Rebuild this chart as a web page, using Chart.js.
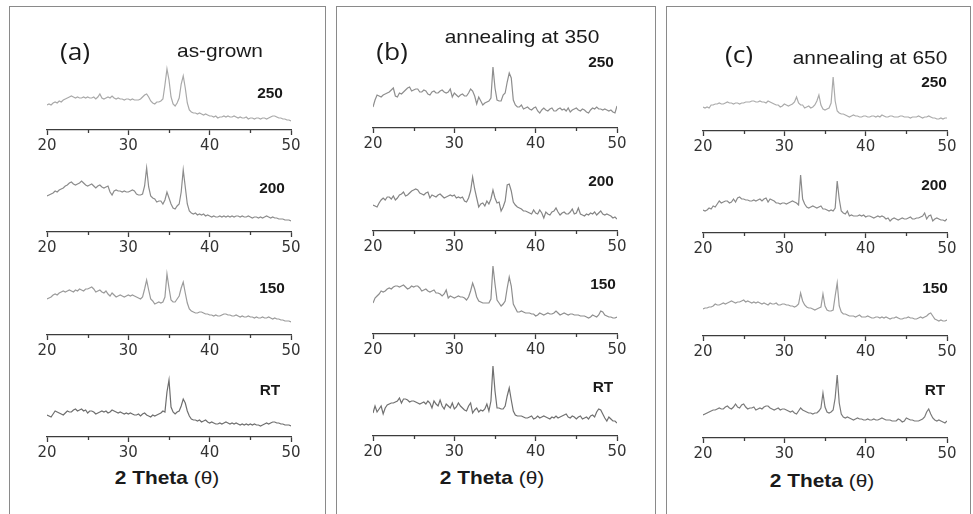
<!DOCTYPE html>
<html>
<head>
<meta charset="utf-8">
<script src="https://cdn.jsdelivr.net/npm/chart.js@4.4.1/dist/chart.umd.min.js"></script>
<style>
  body { margin: 0; background: #fff; width: 973px; height: 514px; overflow: hidden; position: relative;
         font-family: 'Liberation Sans', Arial, sans-serif; }
  .panel { position: absolute; border: 1.5px solid #8a8a8a; border-bottom: none; box-sizing: border-box; }
  .plot { position: absolute; }
  .txt { position: absolute; white-space: nowrap; line-height: 1; color: #1a1a1a;
         transform: translate(-50%, -50%) scaleX(1.1); }
  .tag { font-size: 24px; font-family: 'Open Sans', sans-serif; }
  .title { font-size: 19px; }
  .temp { font-size: 14px; font-weight: bold; }
  .xlabel { font-size: 19px; font-weight: bold; }
  .xlabel span { font-weight: normal; }
</style>
</head>
<body>
<script>
// ── Data ──────────────────────────────────────────────────────────────────
const panelTags   = ['(a)', '(b)', '(c)'];
const panelTitles = ['as-grown', 'annealing at 350', 'annealing at 650'];
const sampleTemps = ['250', '200', '150', 'RT'];
const xTickLabels = [20, 30, 40, 50];
const minorTicks  = [25, 35, 45];
const xTitle      = '2 Theta';

// 2θ sampling grid, 0.25° steps from 20 to 50
const twoTheta = Array.from({ length: 121 }, (_, i) => 20 + i * 0.25);

// intensities (arb. units), as-grown
const a250 = [
  25,26,25,27,28,27,29,28,30,31,32,33,34,33,32,33,32,32,33,32,
  33,32,32,33,31,33,36,32,31,32,33,32,34,32,31,32,31,31,30,31,
  31,30,31,30,30,30,31,33,35,36,33,29,27,26,28,28,29,31,45,61,
  50,33,26,24,27,32,46,54,42,27,20,18,17,17,16,17,16,15,16,15,
  14,14,13,14,12,13,13,14,13,14,13,13,14,13,12,13,12,12,13,11,
  12,12,11,12,12,11,12,12,11,12,13,14,14,13,12,12,11,11,10,10,
  9];
const a200 = [
  36,37,38,39,41,40,42,43,44,46,47,49,50,48,47,48,49,51,49,47,
  46,47,48,46,44,46,47,45,44,45,46,40,37,41,42,41,41,40,41,40,
  40,41,42,41,38,37,37,38,46,64,45,36,34,33,30,31,31,28,32,40,
  34,28,24,23,26,28,40,62,45,28,21,19,18,19,17,18,17,18,16,17,
  16,15,16,15,15,16,15,16,15,16,15,16,15,16,16,15,16,15,15,16,
  15,14,15,15,14,15,14,15,16,15,14,15,14,14,13,13,13,12,12,12,
  11];
const a150 = [
  36,37,38,40,41,40,42,43,44,43,44,45,44,43,45,44,46,45,44,46,
  46,47,48,46,43,44,45,43,42,44,41,39,42,40,38,39,40,39,38,39,
  40,39,40,39,38,37,36,38,46,55,45,36,34,31,32,33,32,33,38,61,
  47,35,33,33,36,39,47,53,42,32,26,24,23,22,22,23,23,22,21,21,
  20,20,19,20,19,19,20,21,21,20,20,19,19,20,19,18,19,18,18,19,
  18,18,17,18,17,17,18,17,17,18,17,16,17,16,16,15,15,14,14,14,
  13];
const aRT = [
  22,21,20,23,26,25,24,23,22,24,26,25,25,27,28,26,27,28,26,27,
  24,26,26,25,23,24,25,26,25,26,24,25,27,26,25,24,25,24,23,24,
  23,24,23,22,22,23,21,23,24,22,21,20,22,21,22,23,24,26,25,45,
  57,30,25,23,25,26,31,38,34,26,21,18,17,17,16,17,15,16,17,15,
  14,15,14,13,13,14,13,14,15,14,13,14,13,14,13,12,13,12,13,12,
  13,12,13,12,12,11,12,13,14,13,14,15,15,14,14,13,13,12,12,12,
  11];

// annealing at 350
const b250 = [
  21,28,33,32,31,33,34,35,36,38,40,32,31,35,34,36,38,40,41,37,
  38,39,39,36,36,38,37,34,33,36,37,35,35,37,38,36,35,36,39,31,
  35,33,31,33,34,32,32,35,39,37,32,24,31,27,23,25,26,27,30,61,
  40,28,27,27,33,35,46,55,50,28,23,21,21,23,19,20,21,19,18,20,
  21,17,15,18,20,18,17,19,20,17,17,19,20,18,19,17,20,16,18,19,
  20,18,17,19,18,16,15,18,20,19,21,19,19,18,19,18,17,18,16,15,
  22];
const b200 = [
  26,25,24,28,31,33,31,34,34,32,35,31,33,36,37,39,35,36,38,40,
  41,42,41,38,37,36,38,39,33,36,35,34,36,37,35,33,34,35,36,35,
  36,33,34,33,34,30,29,33,40,54,42,33,24,27,28,25,30,27,32,41,
  33,28,29,20,24,30,46,47,40,29,26,24,23,22,20,20,19,18,17,21,
  18,17,21,18,13,19,17,16,19,20,23,19,16,18,19,17,17,19,22,17,
  18,23,17,16,15,17,16,18,17,19,16,18,20,17,16,17,16,15,13,14,
  12];
const b150 = [
  31,36,38,40,43,42,43,45,46,45,47,48,48,47,48,49,47,45,46,48,
  47,48,48,46,43,44,45,43,42,43,44,41,41,40,38,40,44,36,38,37,
  36,37,38,37,37,36,34,37,43,51,45,37,33,32,31,31,31,31,35,68,
  50,34,31,28,30,33,46,57,48,30,26,22,22,23,22,21,21,21,20,20,
  18,19,21,20,19,20,21,20,20,21,23,21,19,20,21,20,19,20,20,19,
  19,19,18,18,18,17,16,17,19,18,17,19,23,22,19,18,17,17,16,16,
  17];
const bRT = [
  23,30,24,27,30,22,28,31,32,33,33,34,35,38,33,37,37,36,34,35,
  35,34,33,32,33,34,32,35,33,28,35,32,30,36,30,27,32,30,28,33,
  27,29,33,30,28,26,25,30,33,23,26,28,24,26,25,27,32,25,35,70,
  45,28,28,27,27,30,40,48,36,25,21,20,20,20,19,18,18,19,20,17,
  18,20,18,19,20,19,18,17,19,18,20,18,19,20,21,22,19,18,20,19,
  17,19,20,17,18,19,17,20,21,19,24,27,26,22,18,15,19,17,15,15,
  13];

// annealing at 650
const c250 = [
  24,23,24,23,26,26,27,27,28,27,27,28,29,28,28,27,28,28,27,28,
  28,29,29,29,30,30,29,29,30,29,29,28,30,29,28,27,26,26,24,25,
  27,26,25,26,27,29,34,28,26,26,23,24,25,23,24,26,30,36,26,22,
  21,22,23,28,54,30,20,18,17,17,16,15,14,15,16,15,15,14,14,15,
  15,14,14,15,15,14,15,14,16,15,14,14,15,15,14,14,14,15,15,14,
  14,14,13,14,14,14,15,14,13,14,14,15,14,13,13,12,12,13,12,13,
  13];
const c200 = [
  23,22,23,25,24,27,26,29,32,30,31,32,32,30,31,34,31,35,36,34,
  34,33,33,32,32,33,32,33,34,32,34,35,31,34,33,32,30,30,29,30,
  30,29,30,31,32,31,30,28,58,34,29,26,25,26,27,26,25,26,27,24,
  24,23,22,23,22,25,52,34,22,20,19,22,17,18,17,17,17,18,17,18,
  16,17,17,16,15,16,17,16,17,16,14,15,12,14,15,14,13,14,15,14,
  14,15,16,14,14,15,15,16,17,20,14,17,18,12,14,15,14,13,13,12,
  14];
const c150 = [
  27,28,28,29,29,30,32,31,31,32,33,32,33,34,35,34,33,34,34,35,
  36,34,35,34,33,34,33,34,33,32,33,32,31,33,32,32,33,31,31,32,
  32,31,31,30,30,29,30,32,43,35,31,29,28,28,27,26,27,28,29,42,
  30,26,25,25,26,40,53,30,24,22,22,21,20,20,20,19,20,21,19,19,
  19,20,19,18,18,19,19,18,19,18,19,18,17,18,18,19,18,17,17,18,
  18,19,18,18,17,17,18,19,18,19,20,22,23,20,17,16,15,16,15,15,
  16];
const cRT = [
  23,24,25,26,27,28,28,29,30,29,29,31,32,30,29,31,34,31,30,33,
  34,31,29,30,30,31,28,29,30,29,31,32,32,30,29,28,29,30,28,29,
  29,28,27,26,27,25,24,27,30,28,27,26,25,25,24,25,25,27,30,45,
  31,26,25,26,28,40,63,35,24,21,20,21,20,19,18,19,20,19,19,18,
  18,19,18,18,19,18,18,19,20,19,18,18,18,17,17,17,19,18,16,17,
  20,19,18,18,17,17,17,18,19,21,26,29,24,20,18,17,18,17,16,15,
  17];

const panelSeries = [
  [a250, a200, a150, aRT],
  [b250, b200, b150, bRT],
  [c250, c200, c150, cRT]
];

// ── Layout & style ────────────────────────────────────────────────────────
const AXIS = '#3c3c3c';
const PLOT_H = 72;      // chart area height, 1 unit = 1 px
const AXIS_H = 26;      // room below the axis for ticks + labels
const SIDE = 20;
const AXIS_W = 244;

const panels = [
  { box: [9, 6, 317],   x0: 46.5,  axisY: [130, 232, 335, 437],
    tag: [75, 51], title: [220, 50], xl: [167, 477],
    temps: [[270, 93], [272, 188], [272, 288], [270, 390]],
    colors: ['#a9a9a9', '#8c8c8c', '#9b9b9b', '#6e6e6e'] },
  { box: [336, 6, 320], x0: 372.5, axisY: [128, 231, 334, 436],
    tag: [392, 51], title: [522, 36], xl: [492, 477],
    temps: [[601, 62], [601, 181], [603, 284], [603, 387]],
    colors: ['#8e8e8e', '#858585', '#8e8e8e', '#707070'] },
  { box: [666, 6, 305], x0: 702.5, axisY: [131, 233, 336, 438],
    tag: [739, 54], title: [870, 57], xl: [822, 480],
    temps: [[934, 82], [934, 185], [935, 288], [935, 390]],
    colors: ['#ababab', '#8a8a8a', '#9c9c9c', '#7a7a7a'] }
];

function addText(cls, html, cx, cy) {
  const d = document.createElement('div');
  d.className = 'txt ' + cls;
  d.innerHTML = html;
  d.style.left = cx + 'px';
  d.style.top = cy + 'px';
  document.body.appendChild(d);
}

// short ticks at the half-decade positions
const minorTickPlugin = {
  id: 'minorTickPlugin',
  afterDraw(chart) {
    const s = chart.scales.x, ctx = chart.ctx;
    ctx.save();
    ctx.strokeStyle = AXIS;
    ctx.lineWidth = 1.3;
    minorTicks.forEach(v => {
      const px = Math.round(s.getPixelForValue(v)) + 0.5;
      ctx.beginPath();
      ctx.moveTo(px, s.top);
      ctx.lineTo(px, s.top + 3);
      ctx.stroke();
    });
    ctx.restore();
  }
};

function makePlot(values, color, x0, axisY) {
  const wrap = document.createElement('div');
  wrap.className = 'plot';
  wrap.style.left = (x0 - SIDE) + 'px';
  wrap.style.top = (axisY - PLOT_H) + 'px';
  const cv = document.createElement('canvas');
  cv.width = AXIS_W + 2 * SIDE;
  cv.height = PLOT_H + AXIS_H;
  wrap.appendChild(cv);
  document.body.appendChild(wrap);

  new Chart(cv.getContext('2d'), {
    type: 'line',
    data: {
      datasets: [{
        data: values.map((v, i) => ({ x: twoTheta[i], y: v })),
        borderColor: color,
        borderWidth: 1.2,
        pointRadius: 0,
        tension: 0,
        fill: false
      }]
    },
    options: {
      responsive: false,
      animation: false,
      devicePixelRatio: 1,
      layout: { padding: { left: SIDE, right: SIDE, top: 0, bottom: 0 } },
      plugins: { legend: { display: false }, tooltip: { enabled: false } },
      scales: {
        x: {
          type: 'linear',
          min: xTickLabels[0],
          max: xTickLabels[xTickLabels.length - 1],
          afterFit: s => { s.height = AXIS_H; },
          border: { display: true, color: AXIS, width: 1.3 },
          grid: { drawOnChartArea: false, tickLength: 5, tickColor: AXIS, tickWidth: 1.3 },
          afterBuildTicks: s => { s.ticks = xTickLabels.map(v => ({ value: v })); },
          ticks: {
            color: '#333',
            font: { family: 'DejaVu Sans', size: 15 },
            padding: 2,
            maxRotation: 0,
            autoSkip: false
          }
        },
        y: { display: false, min: 0, max: PLOT_H }
      }
    },
    plugins: [minorTickPlugin]
  });
}

panels.forEach((p, pi) => {
  const box = document.createElement('div');
  box.className = 'panel';
  box.style.left = p.box[0] + 'px';
  box.style.top = p.box[1] + 'px';
  box.style.width = p.box[2] + 'px';
  box.style.height = '520px';
  document.body.appendChild(box);

  panelSeries[pi].forEach((vals, si) => makePlot(vals, p.colors[si], p.x0, p.axisY[si]));

  addText('tag', panelTags[pi], p.tag[0], p.tag[1]);
  addText('title', panelTitles[pi], p.title[0], p.title[1]);
  sampleTemps.forEach((t, si) => addText('temp', t, p.temps[si][0], p.temps[si][1]));
  addText('xlabel', xTitle + ' <span>(θ)</span>', p.xl[0], p.xl[1]);
});
</script>
</body>
</html>
